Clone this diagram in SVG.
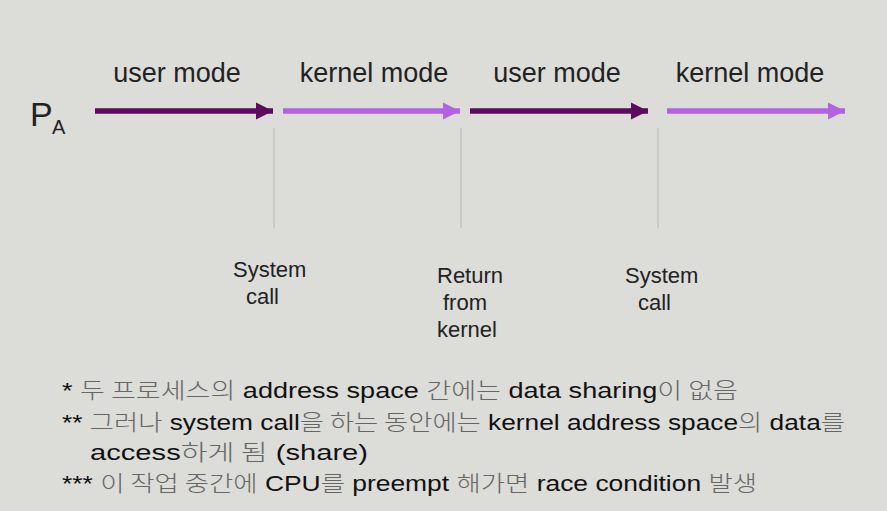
<svg xmlns="http://www.w3.org/2000/svg" width="887" height="511" viewBox="0 0 887 511">
<style>
.lbl{font-family:"Liberation Sans",Arial,sans-serif;fill:#222}
.mode{font-size:27px}
.ev{font-size:22px}
.note{font-family:"Liberation Sans","Noto Sans CJK KR",sans-serif;font-size:22px;fill:#111}
.ko{fill:#666;font-family:"Noto Sans CJK KR",sans-serif;font-weight:300}
.dark{stroke:#5c0b5e;stroke-width:5.5;fill:none}
.light{stroke:#b463e0;stroke-width:5.5;fill:none}
.tick{stroke:#bdbdbd;stroke-width:1.2}
</style>
<defs>
<marker id="hd" viewBox="0 0 10 10" refX="10" refY="5" markerWidth="17" markerHeight="21" markerUnits="userSpaceOnUse" orient="auto"><path d="M0,0 L10,5 L0,10 z" fill="#5c0b5e"/></marker>
<marker id="hl" viewBox="0 0 10 10" refX="10" refY="5" markerWidth="17" markerHeight="21" markerUnits="userSpaceOnUse" orient="auto"><path d="M0,0 L10,5 L0,10 z" fill="#b463e0"/></marker>
</defs>
<rect width="887" height="511" fill="#dcdcd9"/>
<g id="pa"><text class="lbl" x="30" y="126" font-size="34">P</text><text class="lbl" x="52" y="134" font-size="20">A</text></g>
<g id="modes" class="lbl mode">
<text x="177" y="82" text-anchor="middle">user mode</text>
<text x="374" y="82" text-anchor="middle">kernel mode</text>
<text x="557" y="82" text-anchor="middle">user mode</text>
<text x="750" y="82" text-anchor="middle">kernel mode</text>
</g>
<g id="connectors">
<line class="dark" x1="95" y1="111" x2="273" y2="111" marker-end="url(#hd)"/>
<line class="light" x1="283" y1="111" x2="460" y2="111" marker-end="url(#hl)"/>
<line class="dark" x1="470" y1="111" x2="648" y2="111" marker-end="url(#hd)"/>
<line class="light" x1="667" y1="111" x2="845" y2="111" marker-end="url(#hl)"/>
<line class="tick" x1="274" y1="128" x2="274" y2="228"/>
<line class="tick" x1="461" y1="128" x2="461" y2="228"/>
<line class="tick" x1="658" y1="128" x2="658" y2="228"/>
</g>
<g id="ev1" class="lbl ev"><text x="233" y="277">System</text><text x="246" y="304">call</text></g>
<g id="ev2" class="lbl ev"><text x="437" y="283">Return</text><text x="443" y="310">from</text><text x="437" y="337">kernel</text></g>
<g id="ev3" class="lbl ev"><text x="625" y="283">System</text><text x="638" y="310">call</text></g>
<g id="notes" class="note">
<text x="62" y="398" textLength="676" lengthAdjust="spacingAndGlyphs">* <tspan class="ko">두 프로세스의</tspan> address space <tspan class="ko">간에는</tspan> data sharing<tspan class="ko">이 없음</tspan></text>
<text x="62" y="430" textLength="783" lengthAdjust="spacingAndGlyphs">** <tspan class="ko">그러나</tspan> system call<tspan class="ko">을 하는 동안에는</tspan> kernel address space<tspan class="ko">의</tspan> data<tspan class="ko">를</tspan></text>
<text x="90" y="460" textLength="278" lengthAdjust="spacingAndGlyphs">access<tspan class="ko">하게 됨</tspan> (share)</text>
<text x="62" y="491" textLength="695" lengthAdjust="spacingAndGlyphs">*** <tspan class="ko">이 작업 중간에</tspan> CPU<tspan class="ko">를</tspan> preempt <tspan class="ko">해가면</tspan> race condition <tspan class="ko">발생</tspan></text>
</g>
</svg>
